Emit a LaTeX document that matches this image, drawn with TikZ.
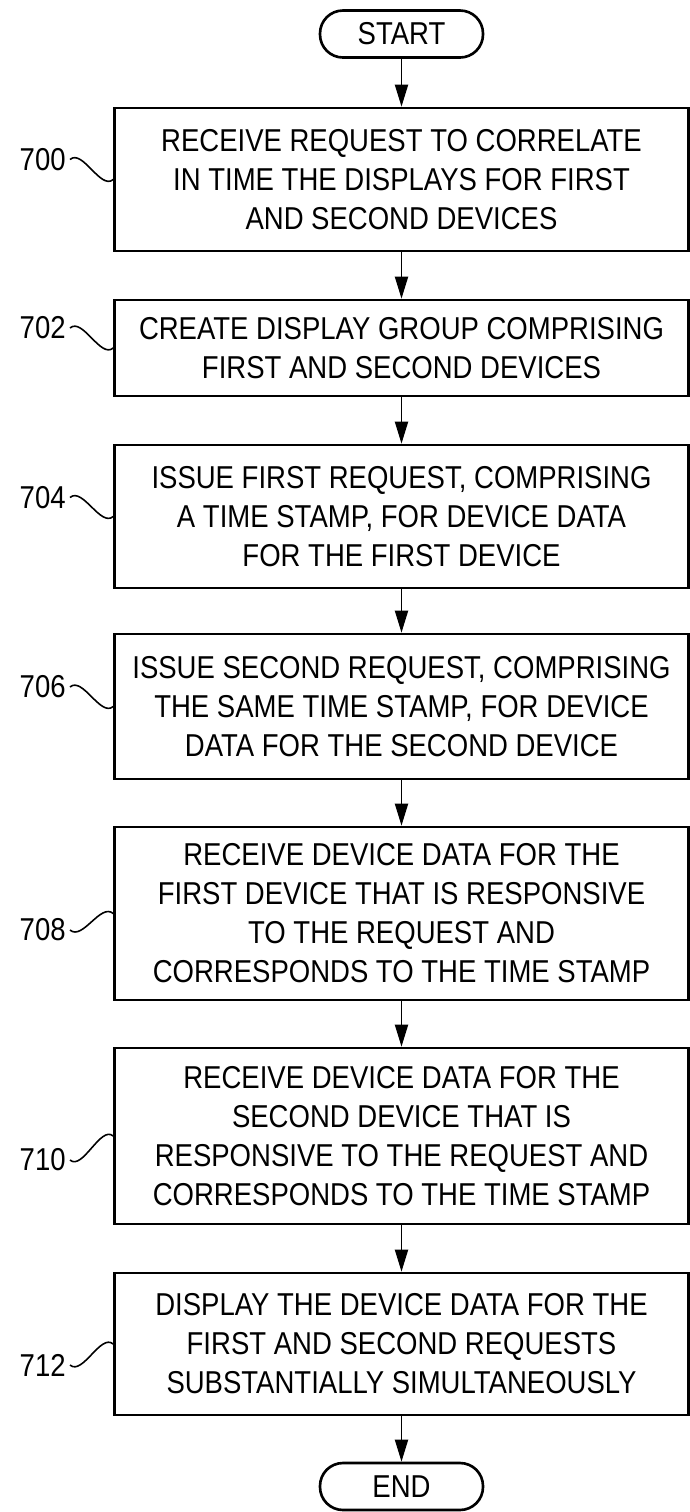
\documentclass[tikz,border=0pt]{standalone}
\usepackage{fontspec}
\setmainfont{Liberation Sans}[FakeStretch=0.87]
\usetikzlibrary{arrows.meta}

\begin{document}
\begin{tikzpicture}[
    every node/.style={font=\fontsize{18pt}{22.2pt}\selectfont},
    stepbox/.style={draw, line width=1.5pt, minimum width=11.48cm, align=center, inner sep=0pt},
    terminal/.style={draw, line width=1.5pt, rounded corners=0.46cm, minimum width=3.26cm, minimum height=0.94cm, inner sep=0pt},
    reflabel/.style={anchor=east, inner sep=0.08cm},
    flow/.style={line width=1.1pt, -{Triangle[length=0.44cm, width=0.26cm]}},
    tilde/.style={line width=0.9pt}
  ]
    \useasboundingbox (0,0) rectangle (13.8,-30.24);

    % start / end
    \node[terminal] (start) at (8.03,-0.68)  {START};
    \node[terminal] (end)   at (8.03,-29.73) {END};

    % steps
    \node[stepbox, minimum height=2.86cm] (s700) at (8.03,-3.59)
        {RECEIVE REQUEST TO CORRELATE\\IN TIME THE DISPLAYS FOR FIRST\\AND SECOND DEVICES};
    \node[stepbox, minimum height=1.92cm] (s702) at (8.03,-6.96)
        {CREATE DISPLAY GROUP COMPRISING\\FIRST AND SECOND DEVICES};
    \node[stepbox, minimum height=2.86cm] (s704) at (8.03,-10.33)
        {ISSUE FIRST REQUEST, COMPRISING\\A TIME STAMP, FOR DEVICE DATA\\FOR THE FIRST DEVICE};
    \node[stepbox, minimum height=2.90cm] (s706) at (8.03,-14.13)
        {ISSUE SECOND REQUEST, COMPRISING\\THE SAME TIME STAMP, FOR DEVICE\\DATA FOR THE SECOND DEVICE};
    \node[stepbox, minimum height=3.46cm] (s708) at (8.03,-18.27)
        {RECEIVE DEVICE DATA FOR THE\\FIRST DEVICE THAT IS RESPONSIVE\\TO THE REQUEST AND\\CORRESPONDS TO THE TIME STAMP};
    \node[stepbox, minimum height=3.52cm] (s710) at (8.03,-22.72)
        {RECEIVE DEVICE DATA FOR THE\\SECOND DEVICE THAT IS\\RESPONSIVE TO THE REQUEST AND\\CORRESPONDS TO THE TIME STAMP};
    \node[stepbox, minimum height=2.84cm] (s712) at (8.03,-26.88)
        {DISPLAY THE DEVICE DATA FOR THE\\FIRST AND SECOND REQUESTS\\SUBSTANTIALLY SIMULTANEOUSLY};

    % reference numerals
    \node[reflabel] (l700) at (1.40,-3.19)  {700};
    \node[reflabel] (l702) at (1.40,-6.56)  {702};
    \node[reflabel] (l704) at (1.40,-9.95)  {704};
    \node[reflabel] (l706) at (1.40,-13.74) {706};
    \node[reflabel] (l708) at (1.40,-18.60) {708};
    \node[reflabel] (l710) at (1.40,-23.20) {710};
    \node[reflabel] (l712) at (1.40,-27.30) {712};

    % leader lines
    \foreach \n in {700,702,704,706}
      \draw[tilde] (l\n.east) .. controls +(0.25,0.22) and +(-0.25,-0.22) .. (s\n.west);
    \foreach \n in {708,710,712}
      \draw[tilde] (l\n.east) .. controls +(0.25,-0.22) and +(-0.25,0.22) .. (s\n.west);

    % flow
    \draw[flow] (start) -- (s700);
    \draw[flow] (s700) -- (s702);
    \draw[flow] (s702) -- (s704);
    \draw[flow] (s704) -- (s706);
    \draw[flow] (s706) -- (s708);
    \draw[flow] (s708) -- (s710);
    \draw[flow] (s710) -- (s712);
    \draw[flow] (s712) -- (end);
\end{tikzpicture}
\end{document}
